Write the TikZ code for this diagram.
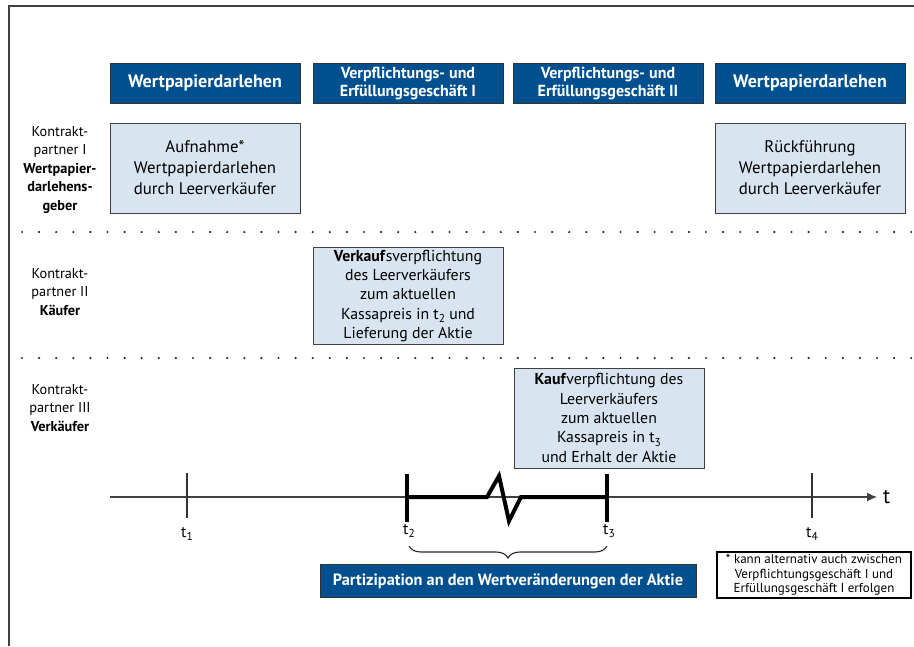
\documentclass[tikz,border=0pt]{standalone}
\usepackage{fontspec}
\setmainfont{PT Sans}
\usepackage{xcolor}
\usetikzlibrary{arrows.meta,positioning,calc,decorations.pathreplacing}
\definecolor{wpblue}{HTML}{00508F}
\definecolor{wplight}{HTML}{D8E4EF}
\newcommand{\tsub}[1]{t\raisebox{-0.45ex}{\fontsize{11.5}{11.5}\selectfont #1}}
\tikzstyle{axis} = [
    line width=1.3pt,
    -{Latex[length=10pt,width=9pt]},
    draw=black!75
]

\begin{document}
\begin{tikzpicture}[
    x=1pt, y=-1pt,
    headbox/.style={
        draw=black!80,
        fill=wpblue,
        text=white,
        font=\bfseries\fontsize{16}{18}\selectfont,
        minimum width=190pt,
        minimum height=40pt,
        inner sep=0pt,
        align=center
    },
    infobox/.style={
        draw=black!75,
        line width=1pt,
        fill=wplight,
        minimum width=190pt,
        inner sep=0pt,
        align=center
    },
    partylabel/.style={
        align=center,
        inner sep=0pt,
        font=\fontsize{14.3}{18.5}\selectfont
    },
    rowsep/.style={
        line width=2.4pt,
        line cap=round,
        dash pattern=on 0pt off 17.1pt,
        draw=black!85
    },
    tick/.style={line width=1.2pt, draw=black!80},
    bigtick/.style={line width=4pt, draw=black}
]
\useasboundingbox (0,0) rectangle (914,646);

% Frame
\draw[black!75, line width=1.6pt] (914,6) -- (9,6) -- (9,646);

% Headers
\node[headbox, font=\bfseries\fontsize{18}{18}\selectfont] (head1) at (205,83) {Wertpapierdarlehen};
\node[headbox] (head2) at (408,83) {Verpflichtungs- und\\Erfüllungsgeschäft I};
\node[headbox] (head3) at (608,83) {Verpflichtungs- und\\Erfüllungsgeschäft II};
\node[headbox, font=\bfseries\fontsize{18}{18}\selectfont] (head4) at (810,83) {Wertpapierdarlehen};

% Contract partners
\node[partylabel] (party1) at (60,170) {Kontrakt-\\partner I\\\textbf{Wertpapier-}\\\textbf{darlehens-}\\\textbf{geber}};
\node[partylabel] (party2) at (60,292) {Kontrakt-\\partner II\\\textbf{Käufer}};
\node[partylabel] (party3) at (60,408) {Kontrakt-\\partner III\\\textbf{Verkäufer}};

% Boxes
\node[infobox, minimum height=90pt, font=\fontsize{16.8}{21}\selectfont] (loan) at (205,168)
    {Aufnahme*\\Wertpapierdarlehen\\durch Leerverkäufer};
\node[infobox, minimum height=90pt, font=\fontsize{16.8}{21}\selectfont] (repay) at (810,168)
    {Rückführung\\Wertpapierdarlehen\\durch Leerverkäufer};
\node[infobox, minimum height=97pt, font=\fontsize{15.8}{19.3}\selectfont] (sell) at (408,296)
    {\textbf{Verkauf}sverpflichtung\\des Leerverkäufers\\zum aktuellen\\Kassapreis in \tsub{2} und\\Lieferung der Aktie};
\node[infobox, minimum height=100pt, font=\fontsize{15.8}{19.3}\selectfont] (buy) at (609,418)
    {\textbf{Kauf}verpflichtung des\\Leerverkäufers\\zum aktuellen\\Kassapreis in \tsub{3}\\und Erhalt der Aktie};

% Row separators
\draw[rowsep] (22,232) -- (914,232);
\draw[rowsep] (22,358) -- (914,358);

% Time axis
\coordinate (start) at (110,497);
\coordinate (stop) at (877,497);
\draw[axis] (start) -- (stop);
\node[right=6pt of stop, inner sep=0pt, font=\fontsize{21}{21}\selectfont] (tname) {t};

\foreach \name/\xpos/\lab in {one/187/1, four/812/4} {
    \draw[tick] (\xpos,473) -- (\xpos,518);
    \node[font=\fontsize{16}{16}\selectfont] (lab\name) at (\xpos,534) {\tsub{\lab}};
}
\foreach \name/\xpos/\lab in {two/407/2, three/607/3} {
    \draw[bigtick] (\xpos,474) -- (\xpos,522);
    \node[font=\fontsize{16}{16}\selectfont] (lab\name) at (\xpos+2,531) {\tsub{\lab}};
}
% Holding period with break
\draw[line width=4pt, line join=miter] (407,497) -- (487,497) -- (499,476) -- (509,521) -- (521,497) -- (607,497);

% Brace and participation
\draw[line width=1.1pt, black!85, decorate,
      decoration={brace, mirror, amplitude=12pt}] (409,546) -- (607,546);
\node[headbox, font=\bfseries\fontsize{16.3}{17}\selectfont, minimum width=376pt, minimum height=33pt] (part) at (508,581)
    {Partizipation an den Wertveränderungen der Aktie};

% Footnote
\node[draw=black, line width=1.2pt, fill=white, minimum width=194pt, minimum height=46pt, inner sep=0pt,
      align=center, font=\fontsize{13}{14.5}\selectfont] (note) at (814,575)
    {* kann alternativ auch zwischen\\Verpflichtungsgeschäft I und\\Erfüllungsgeschäft I erfolgen};
\end{tikzpicture}
\end{document}
